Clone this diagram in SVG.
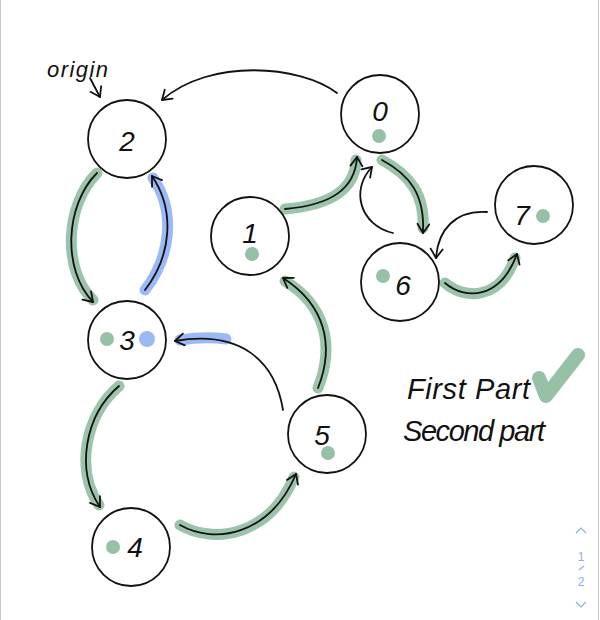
<svg xmlns="http://www.w3.org/2000/svg" width="600" height="620" viewBox="0 0 600 620">
<defs>
<marker id="ah" markerUnits="userSpaceOnUse" markerWidth="16" markerHeight="16" refX="11" refY="7" orient="auto">
<path d="M2,1 L11,7 L2,13" fill="none" stroke="#111" stroke-width="1.8" stroke-linecap="round" stroke-linejoin="round"/>
</marker>
<style>
.node circle.c{fill:#fff;stroke:#111;stroke-width:1.8}
.lbl{font-family:"Liberation Sans","DejaVu Sans",sans-serif;font-size:28px;fill:#111;text-anchor:middle;font-style:italic}
.gd{fill:#96c1a7}
.bd{fill:#9bbaf5}
.hg{fill:none;stroke:#96c1a7;stroke-width:11;stroke-linecap:round;opacity:0.95}
.hb{fill:none;stroke:#9bbaf5;stroke-width:11;stroke-linecap:round}
.ln{fill:none;stroke:#111;stroke-width:1.8;stroke-linecap:round;marker-end:url(#ah)}
.hw{font-family:"Liberation Sans","DejaVu Sans",sans-serif;fill:#111;font-style:italic}
.pg{font-family:"Liberation Sans","DejaVu Sans",sans-serif;font-size:12px;fill:#8aaee6;text-anchor:middle}
</style>
</defs>
<rect width="600" height="620" fill="#fff"/>
<line x1="0.5" y1="0" x2="0.5" y2="620" stroke="#c8c8c8" stroke-width="1"/>
<line x1="598.5" y1="0" x2="598.5" y2="620" stroke="#c8c8c8" stroke-width="1"/>

<g id="connectors">
<path class="ln" d="M337,93 C300,65 210,58 162,100"/>
<path class="hg" d="M97,173 C65,205 62,270 93,300"/>
<path class="ln" d="M97,173 C65,205 62,270 93,302"/>
<path class="hb" d="M145,290 C172,255 175,210 153,178"/>
<path class="ln" d="M145,290 C172,255 175,210 152,176"/>
<path class="hb" d="M180,340 Q205,336 226,339"/>
<path class="ln" d="M283,410 C275,360 240,330 175,341"/>
<path class="hg" d="M119,386 C85,415 75,470 99,505"/>
<path class="ln" d="M119,386 C85,415 75,470 100,507"/>
<path class="hg" d="M180,525 C215,545 270,535 294,477"/>
<path class="ln" d="M180,525 C215,545 270,535 296,474"/>
<path class="hg" d="M318,388 C335,345 325,305 285,281"/>
<path class="ln" d="M318,388 C335,345 325,305 283,278"/>
<path class="hg" d="M285,209 C330,205 355,190 356,160"/>
<path class="ln" d="M285,209 C330,205 355,190 357,157"/>
<path class="hg" d="M382,160 C410,175 425,195 423,228"/>
<path class="ln" d="M382,160 C410,175 425,195 423,233"/>
<path class="ln" d="M393,233 C360,225 350,190 372,167"/>
<path class="ln" d="M487,212 C455,210 438,230 436,258"/>
<path class="hg" d="M445,283 C465,300 500,300 515,258"/>
<path class="ln" d="M445,283 C465,300 500,300 517,254"/>
<path class="ln" d="M90,78 L100,97"/>
</g>

<g id="node-2" class="node"><circle class="c" cx="127" cy="139" r="39"/><text class="lbl" x="127" y="151">2</text></g>
<g id="node-0" class="node"><circle class="c" cx="380" cy="114" r="39"/><text class="lbl" x="380" y="121">0</text><circle class="gd" cx="379" cy="136" r="7"/></g>
<g id="node-1" class="node"><circle class="c" cx="250" cy="236" r="39"/><text class="lbl" x="250" y="243">1</text><circle class="gd" cx="252" cy="254" r="7"/></g>
<g id="node-7" class="node"><circle class="c" cx="534" cy="205" r="39"/><text class="lbl" x="522" y="225">7</text><circle class="gd" cx="543" cy="216" r="7"/></g>
<g id="node-6" class="node"><circle class="c" cx="400" cy="282" r="39"/><text class="lbl" x="403" y="295">6</text><circle class="gd" cx="383" cy="276" r="7"/></g>
<g id="node-3" class="node"><circle class="c" cx="127" cy="340" r="39"/><text class="lbl" x="127" y="350">3</text><circle class="gd" cx="107" cy="339" r="7"/><circle class="bd" cx="147" cy="339" r="8"/></g>
<g id="node-4" class="node"><circle class="c" cx="131" cy="547" r="39"/><text class="lbl" x="135" y="557">4</text><circle class="gd" cx="113" cy="547" r="7"/></g>
<g id="node-5" class="node"><circle class="c" cx="327" cy="434" r="39"/><text class="lbl" x="322" y="445">5</text><circle class="gd" cx="328" cy="453" r="7"/></g>

<text class="hw" x="47" y="77" font-size="22" textLength="61">origin</text>
<text class="hw" x="407" y="399" font-size="29" textLength="123">First Part</text>
<text class="hw" x="403" y="441" font-size="29" textLength="142">Second part</text>
<path d="M539,378 L546,396 L578,355" fill="none" stroke="#96c1a7" stroke-width="14" stroke-linecap="round" stroke-linejoin="round"/>

<g id="pager">
<path d="M576,533 L581,528 L586,533" fill="none" stroke="#8aaee6" stroke-width="1.2"/>
<text class="pg" x="581" y="561">1</text>
<line x1="579" y1="570" x2="584" y2="566" stroke="#8aaee6" stroke-width="1.2"/>
<text class="pg" x="581" y="586">2</text>
<path d="M576,602 L581,607 L586,602" fill="none" stroke="#8aaee6" stroke-width="1.2"/>
</g>
</svg>
